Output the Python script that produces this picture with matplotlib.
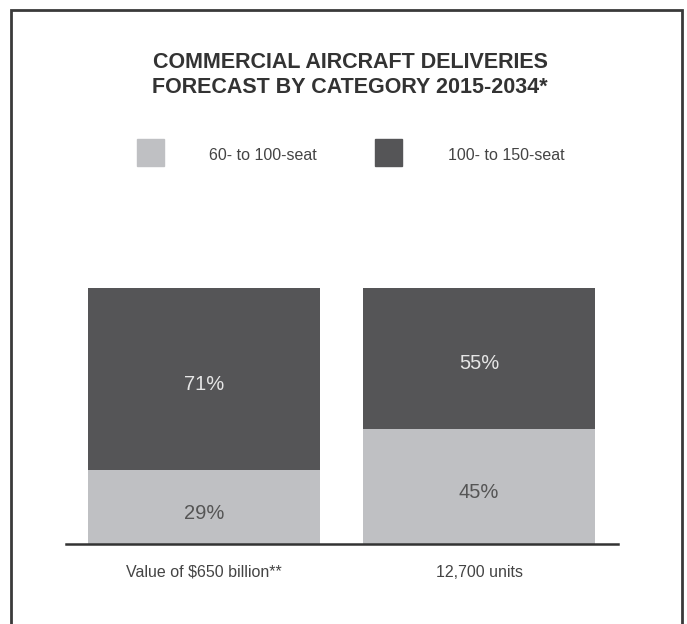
import matplotlib.pyplot as plt
from matplotlib.patches import Rectangle

plt.rcParams['font.family'] = ['Liberation Sans', 'DejaVu Sans']

# data
categories = ["Value of $650 billion**", "12,700 units"]
small_seat = [29, 45]      # 60- to 100-seat share (%)
large_seat = [71, 55]      # 100- to 150-seat share (%)
series_names = ["60- to 100-seat", "100- to 150-seat"]

LIGHT = "#bfc0c3"
DARK = "#555557"
TEXT = "#333333"

W, H = 687, 624
fig = plt.figure(figsize=(W / 100, H / 100), dpi=100)

def px(x, y):
    # pixel position (from top-left) to figure fraction
    return x / W, 1 - y / H

# outer frame, open at the bottom
fig.add_artist(Rectangle(px(11, 640), (682 - 11) / W, (640 - 10) / H,
                         transform=fig.transFigure, fill=False,
                         edgecolor="#3a3a3a", linewidth=2, clip_on=False))

# title
fig.text(*px(350, 75), "COMMERCIAL AIRCRAFT DELIVERIES\nFORECAST BY CATEGORY 2015-2034*",
         ha="center", va="center", fontsize=15.5, fontweight="bold",
         color=TEXT, linespacing=1.25)

# legend
for (sx, tx), name, col in zip([(137, 209), (375, 448)], series_names, [LIGHT, DARK]):
    fig.add_artist(Rectangle(px(sx, 166), 27 / W, 27 / H,
                             transform=fig.transFigure, color=col))
    fig.text(*px(tx, 155), name, ha="left", va="center", fontsize=11.5, color="#444444")

# bars
left, right, top, bottom = 66, 618, 288, 544
ax = fig.add_axes([left / W, 1 - bottom / H, (right - left) / W, (bottom - top) / H])
x = [0, 1]
ax.bar(x, small_seat, width=0.844, color=LIGHT)
ax.bar(x, large_seat, width=0.844, bottom=small_seat, color=DARK)
ax.set_xlim(-0.502, 1.505)
ax.set_ylim(0, 100)

for i in x:
    ax.text(i, small_seat[i] / 2 - 2.5, f"{small_seat[i]}%", ha="center", va="center",
            fontsize=14.5, color="#555555")
    ax.text(i, small_seat[i] + large_seat[i] / 2 - 2, f"{large_seat[i]}%",
            ha="center", va="center", fontsize=14.5, color="#e6e6e6")

for s in ["top", "right", "left"]:
    ax.spines[s].set_visible(False)
ax.spines["bottom"].set_linewidth(1.8)
ax.spines["bottom"].set_color(TEXT)
ax.set_yticks([])
ax.set_xticks(x)
ax.set_xticklabels(categories, fontsize=11.5, color="#444444")
ax.tick_params(axis="x", length=0, pad=15)

fig.savefig("out.png", dpi=100)
